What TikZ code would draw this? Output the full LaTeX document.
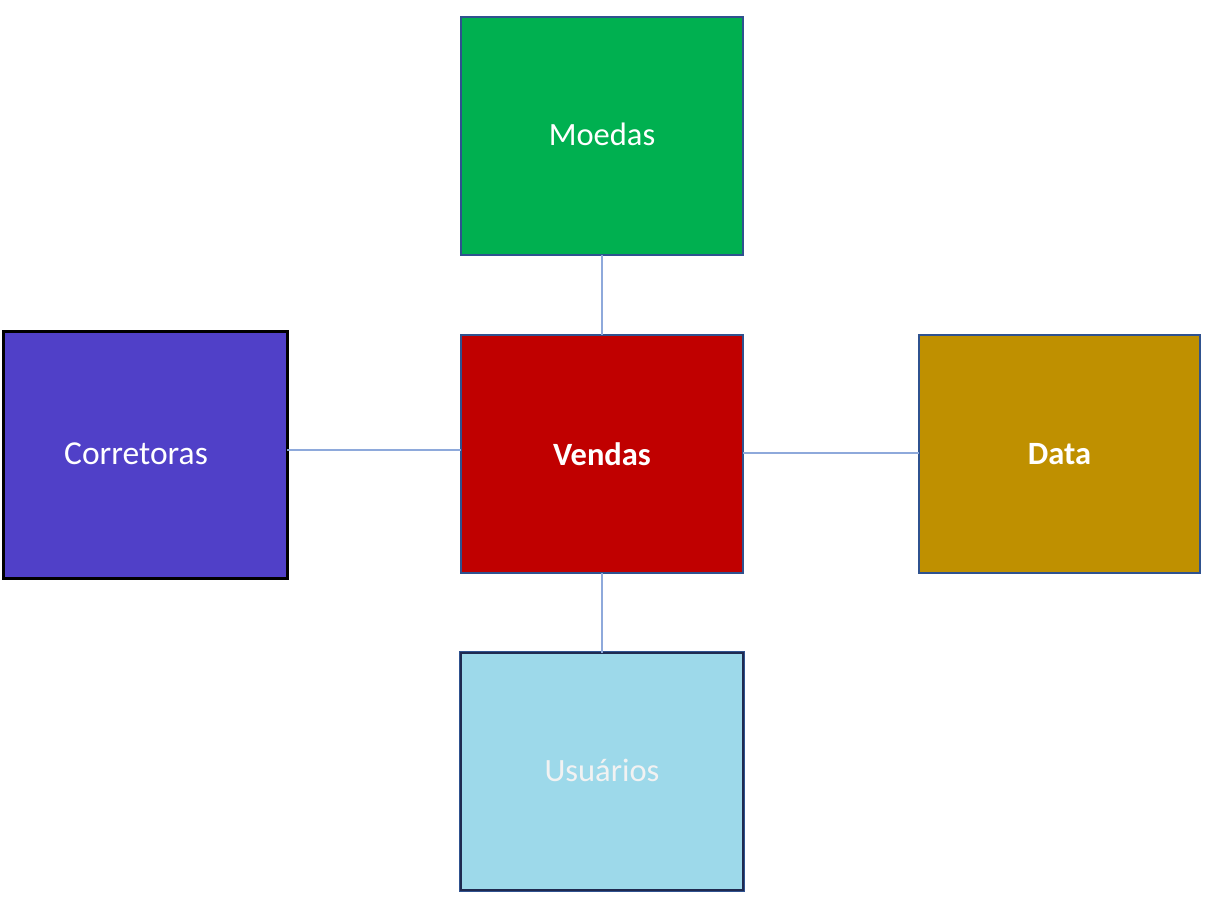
\documentclass[tikz,border=0pt]{standalone}
\usepackage{fontspec}
\setmainfont{Carlito}
\definecolor{cgreen}{HTML}{00B050}
\definecolor{cred}{HTML}{C00000}
\definecolor{cpurple}{HTML}{5040C8}
\definecolor{cgold}{HTML}{BF9000}
\definecolor{clight}{HTML}{9DD9EA}
\definecolor{cborder}{HTML}{2F528F}
\definecolor{clink}{HTML}{8EA9DB}
\definecolor{cnavy}{HTML}{1F2A50}
\definecolor{ctextlight}{HTML}{F2F2F2}
\begin{document}
\begin{tikzpicture}[x=1pt,y=1pt,
  entity/.style={rectangle, draw=cborder, line width=1.5pt, inner sep=0pt, outer sep=0pt,
    minimum width=282pt, minimum height=238pt, text=white, font=\fontsize{32.5}{38}\selectfont},
  link/.style={draw=clink, line width=1.4pt}]
\useasboundingbox[fill=white] (0,0) rectangle (1222,896);
\node[entity, fill=cgreen] (m) at (602,760) {\raisebox{3pt}{Moedas}};
\node[entity, fill=cred, font=\fontsize{32.5}{38}\selectfont\bfseries] (v) at (602,442) {Vendas};
\node[entity, fill=cpurple, draw=black, line width=3pt, minimum width=284pt, minimum height=247pt, font=\fontsize{33.5}{38}\selectfont] (c) at (145,440.5) {\hspace*{-18pt}\raisebox{3pt}{Corretoras}};
\node[entity, fill=cgold, minimum width=281pt, font=\fontsize{32.5}{38}\selectfont\bfseries] (d) at (1059.5,442) {Data};
\node[entity, fill=clight, draw=cnavy, line width=2pt, minimum height=237pt, text=ctextlight] (u) at (602,124.5) {\raisebox{3pt}{Usuários}};
\draw[cborder, line width=0.8pt] ([xshift=-1.3pt,yshift=-1.3pt]u.south west) rectangle ([xshift=1.3pt,yshift=1.3pt]u.north east);
\draw[link] (m.south) -- (v.north);
\draw[link] ([yshift=5.5pt]c.east) -- ([yshift=4pt]v.west);
\draw[link] ([yshift=1pt]v.east) -- ([yshift=1pt]d.west);
\draw[link] (v.south) -- (u.north);
\end{tikzpicture}
\end{document}
